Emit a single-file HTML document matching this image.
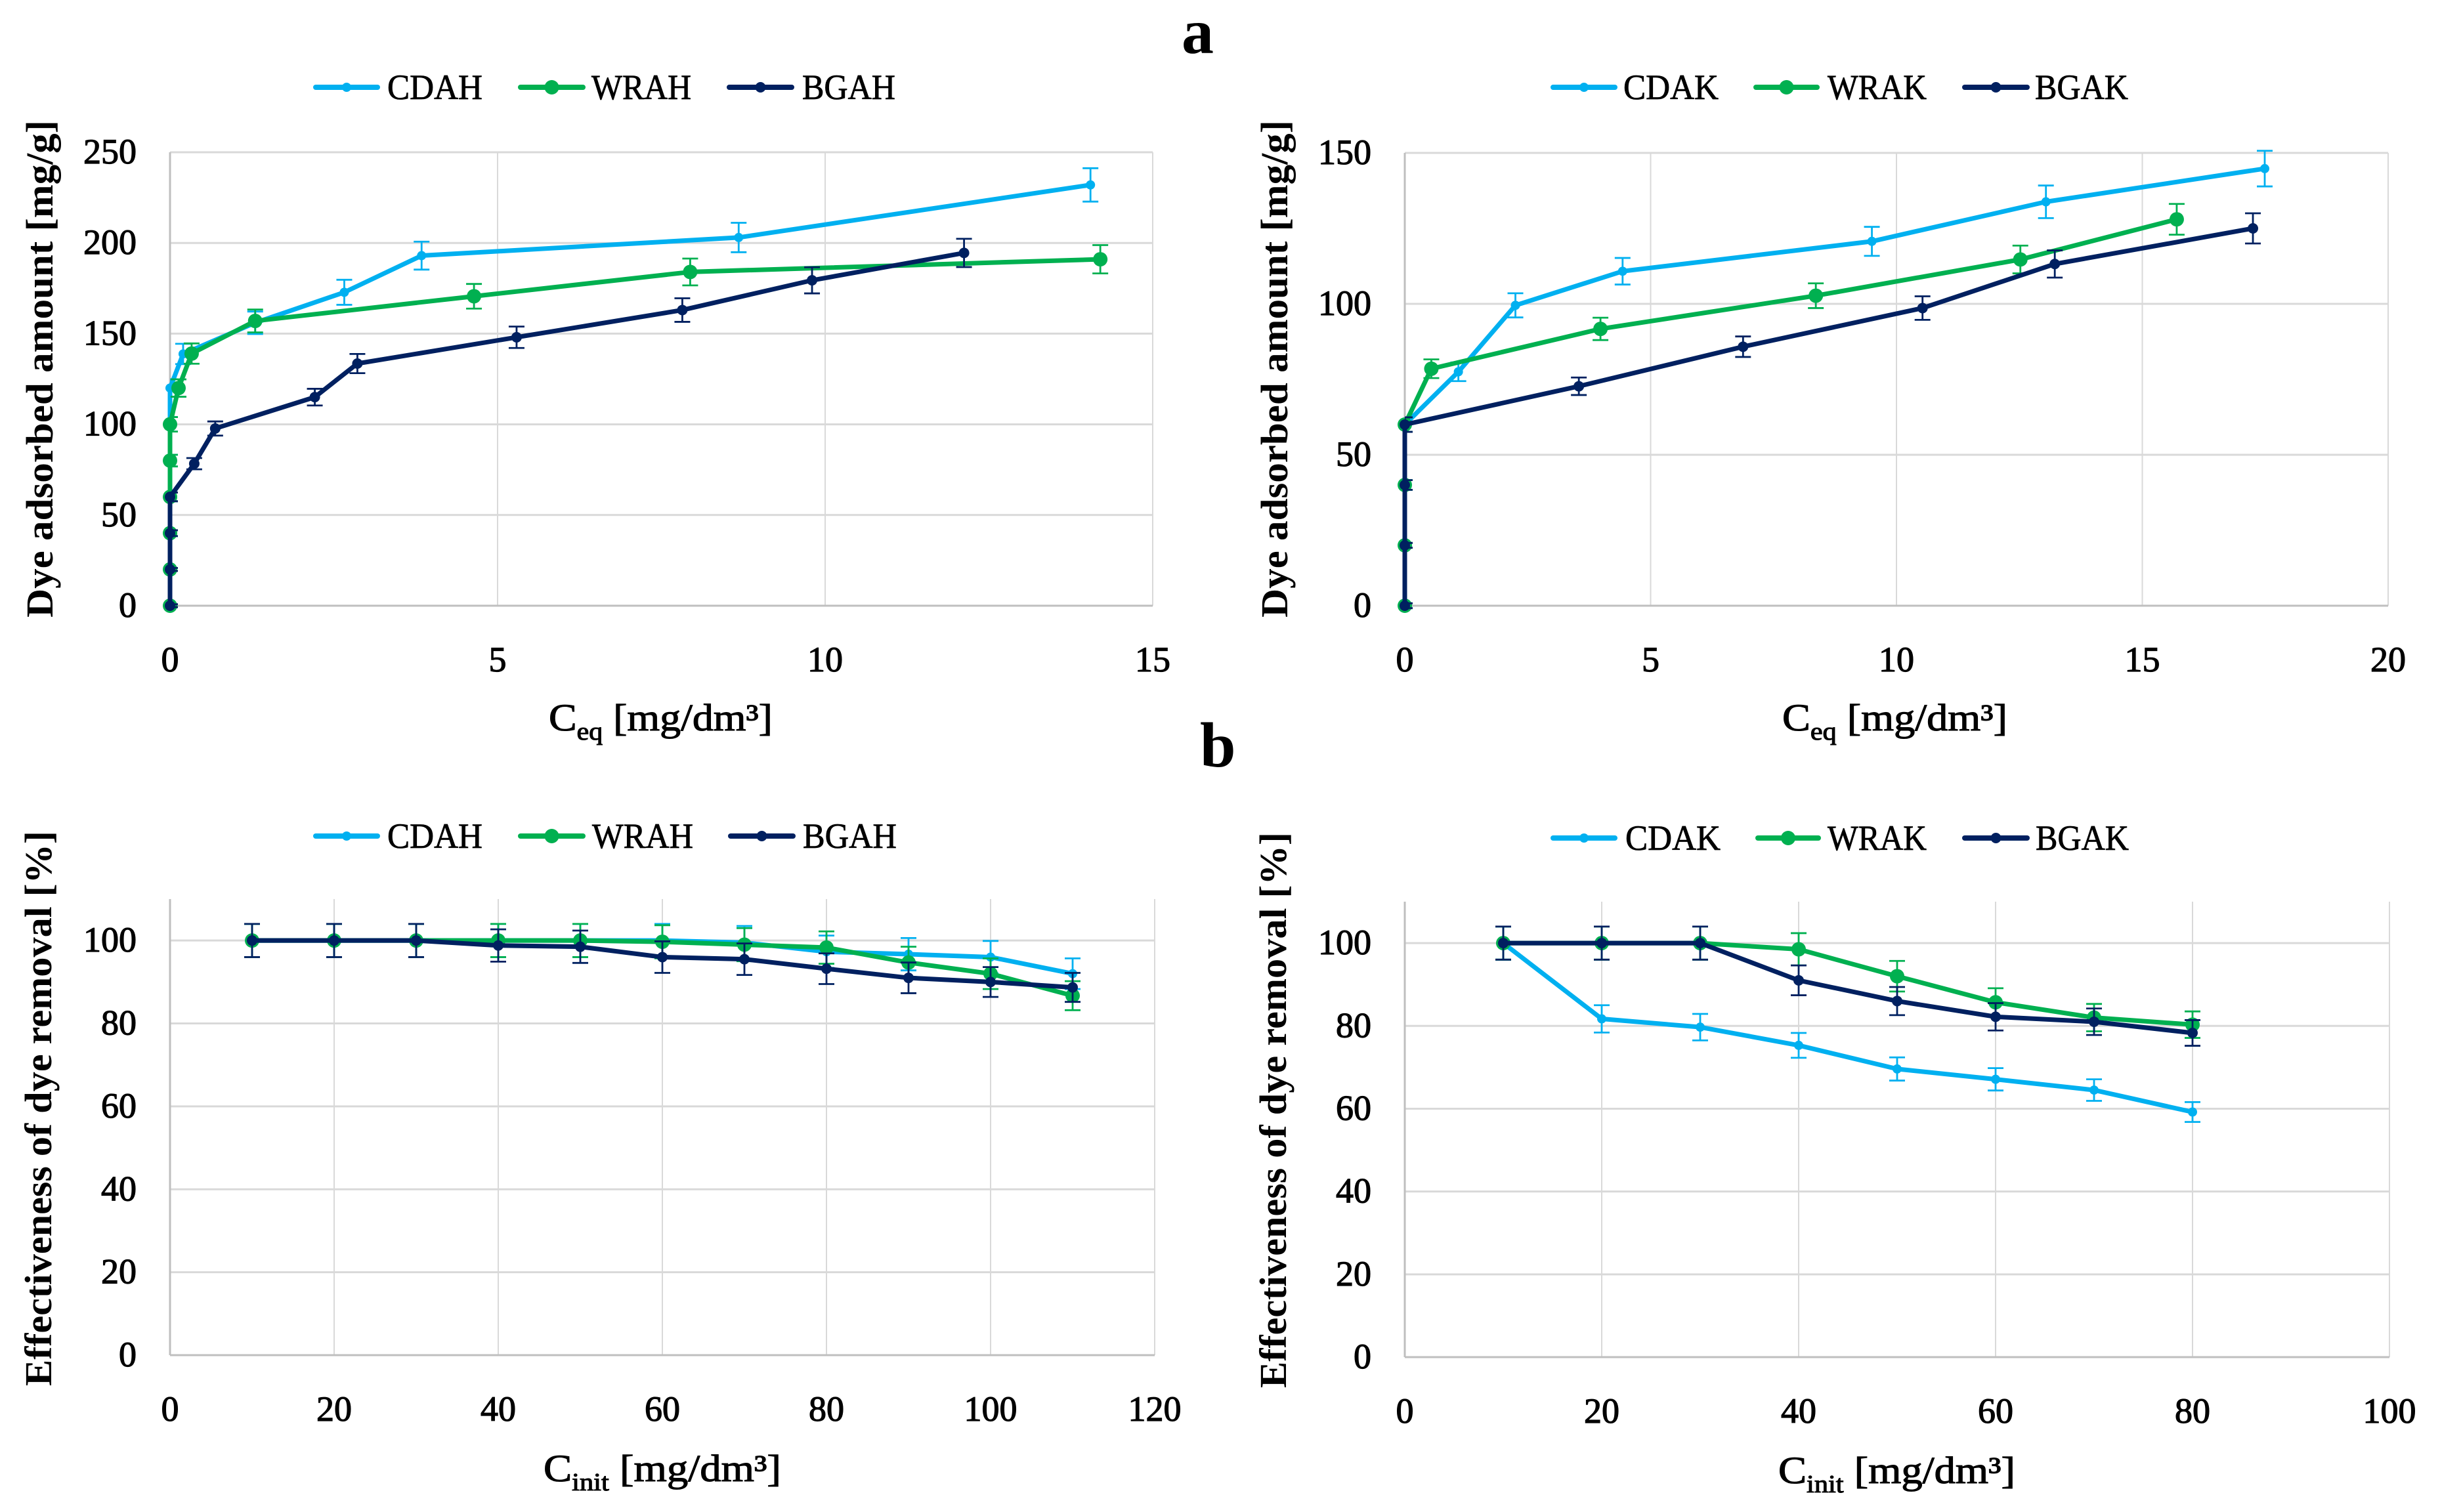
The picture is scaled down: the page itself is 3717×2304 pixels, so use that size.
<!DOCTYPE html>
<html lang="en">
<head>
<meta charset="utf-8">
<title>Dye adsorption charts</title>
<style>
html,body{margin:0;padding:0;background:#fff;width:3717px;height:2304px;overflow:hidden}
svg{display:block;font-family:"Liberation Serif","DejaVu Serif",serif;fill:#000}
.tick{font-size:54px;stroke:#000;stroke-width:1.2px}
.legend{font-size:54px;stroke:#000;stroke-width:.8px}
.xt{font-size:58px;stroke:#000;stroke-width:1.1px}
.yt{font-size:58px;font-weight:bold}
.panel{font-size:98px;font-weight:bold}
</style>
</head>
<body>
<svg id="fig" xmlns="http://www.w3.org/2000/svg" width="3717" height="2304" viewBox="0 0 3717 2304">
<rect width="3717" height="2304" fill="#fff"></rect>
<text class="panel" x="1800" y="81">a</text>
<text class="panel" x="1828" y="1168">b</text>
</svg>
<script>
// Top-left: adsorption isotherm, H series
const a1Xticks = [0, 5, 10, 15];
const a1Yticks = [0, 50, 100, 150, 200, 250];
const cdahX = [0, 0, 0, 0, 0, 0, 0, 0.2, 1.3, 2.66, 3.84, 8.68, 14.05];
const cdahY = [0, 20, 40, 60, 80, 100, 120, 138.8, 156, 172.8, 193, 203, 232];
const cdahE = [0.8, 0.8, 1.6, 2.4, 3.2, 4, 4.8, 5.6, 6.2, 6.9, 7.7, 8.1, 9.2];
const wrahX = [0, 0, 0, 0, 0, 0, 0.13, 0.33, 1.3, 4.64, 7.94, 14.2];
const wrahY = [0, 20, 40, 60, 80, 100, 120, 139, 157, 170.6, 184, 191];
const wrahE = [0.8, 0.8, 1.6, 2.4, 3.2, 4, 4.8, 5.6, 6.3, 6.8, 7.4, 7.8];
const bgahX = [0, 0, 0, 0, 0.37, 0.69, 2.21, 2.86, 5.29, 7.82, 9.8, 12.12];
const bgahY = [0, 20, 40, 60, 78.3, 97.7, 115, 133.5, 148, 163, 179.4, 194.5];
const bgahE = [0.8, 0.8, 1.6, 2.4, 3.1, 3.9, 4.6, 5.3, 5.9, 6.5, 7.2, 7.8];

// Top-right: adsorption isotherm, K series
const a2Xticks = [0, 5, 10, 15, 20];
const a2Yticks = [0, 50, 100, 150];
const cdakX = [0, 0, 0, 0, 1.09, 2.25, 4.43, 9.5, 13.04, 17.49];
const cdakY = [0, 20, 40, 60, 77.5, 99.5, 110.8, 120.7, 133.8, 144.8];
const cdakE = [0.8, 0.8, 1.6, 2.4, 3.1, 4, 4.4, 4.8, 5.4, 5.9];
const wrakX = [0, 0, 0, 0, 0.54, 3.98, 8.36, 12.52, 15.7];
const wrakY = [0, 20, 40, 60, 78.5, 91.7, 102.7, 114.7, 128];
const wrakE = [0.8, 0.8, 1.6, 2.4, 3.1, 3.7, 4.1, 4.6, 5.1];
const bgakX = [0, 0, 0, 0, 3.54, 6.88, 10.53, 13.22, 17.25];
const bgakY = [0, 20, 40, 60, 72.7, 85.8, 98.6, 113.2, 125];
const bgakE = [0.8, 0.8, 1.6, 2.4, 2.9, 3.4, 3.9, 4.5, 5];

// Bottom-left: removal effectiveness, H series
const b1Xticks = [0, 20, 40, 60, 80, 100, 120];
const b1Yticks = [0, 20, 40, 60, 80, 100];
const b1Conc = [10, 20, 30, 40, 50, 60, 70, 80, 90, 100, 110];
const cdahEff = [100, 100, 100, 100, 100, 100, 99.5, 97.3, 96.7, 96, 92];
const cdahEffE = [4, 4, 4, 4, 4, 4, 4, 3.9, 3.9, 3.9, 3.7];
const wrahEff = [100, 100, 100, 100, 100, 99.7, 99, 98.3, 94.7, 92, 86.7];
const wrahEffE = [4, 4, 4, 4, 4, 4, 4, 3.9, 3.8, 3.7, 3.5];
const bgahEff = [100, 100, 100, 98.8, 98.5, 96, 95.5, 93.2, 91, 90, 88.7];
const bgahEffE = [4, 4, 4, 3.9, 3.9, 3.8, 3.8, 3.7, 3.7, 3.6, 3.5];

// Bottom-right: removal effectiveness, K series
const b2Xticks = [0, 20, 40, 60, 80, 100];
const b2Yticks = [0, 20, 40, 60, 80, 100];
const b2Conc = [10, 20, 30, 40, 50, 60, 70, 80];
const cdakEff = [100, 81.7, 79.7, 75.3, 69.6, 67.1, 64.5, 59.2];
const cdakEffE = [4, 3.3, 3.2, 3, 2.8, 2.7, 2.6, 2.4];
const wrakEff = [100, 100, 100, 98.5, 92, 85.7, 82, 80.3];
const wrakEffE = [4, 4, 4, 3.9, 3.7, 3.4, 3.3, 3.2];
const bgakEff = [100, 100, 100, 91, 86, 82.2, 81, 78.3];
const bgakEffE = [4, 4, 4, 3.6, 3.4, 3.3, 3.2, 3.1];

const NS = 'http://www.w3.org/2000/svg';
const fig = document.getElementById('fig');
const BLUE = '#00B0F0', GREEN = '#00B050', NAVY = '#002060';

function mk(tag, attrs, parent) {
  const el = document.createElementNS(NS, tag);
  for (const k in attrs) el.setAttribute(k, attrs[k]);
  (parent || fig).appendChild(el);
  return el;
}

function drawChart(c) {
  const g = mk('g', {});
  
  
  const xMin = c.xTicks[0], xMax = c.xTicks[c.xTicks.length - 1];
  const x = v => c.left + (v - xMin) / (xMax - xMin) * (c.right - c.left);
  const y = v => c.bottom - v / c.yMax * (c.bottom - c.top);

  const clip = mk('clipPath', {id: c.id + '-clip'}, g);
  mk('rect', {x: c.left, y: c.top - 40, width: c.right - c.left + 20, height: c.bottom - c.top + 80}, clip);

  c.yTicks.forEach(t => {
    if (t === 0) return;
    const l = mk('line', {x1: c.left, x2: c.right, y1: y(t), y2: y(t), stroke: '#D9D9D9', 'stroke-width': 3}, g);
    
    
  });
  c.xTicks.forEach(t => {
    if (t === xMin) return;
    const l = mk('line', {x1: x(t), x2: x(t), y1: c.top, y2: c.bottom, stroke: '#D9D9D9', 'stroke-width': 2}, g);
    
    
  });
  const ax = mk('line', {x1: c.left, x2: c.right, y1: c.bottom, y2: c.bottom, stroke: '#BFBFBF', 'stroke-width': 3}, g);
  
  
  const ay = mk('line', {x1: c.left, x2: c.left, y1: c.top, y2: c.bottom, stroke: '#BFBFBF', 'stroke-width': 3}, g);
  
  

  c.yTicks.forEach(t => {
    const e = mk('text', {x: c.left - 51, y: y(t) + 17, 'text-anchor': 'end', class: 'tick'}, g);
    
    
    e.textContent = t;
  });
  c.xTicks.forEach(t => {
    const e = mk('text', {x: x(t), y: c.bottom + c.xTickDy, 'text-anchor': 'middle', class: 'tick'}, g);
    
    
    e.textContent = t;
  });

  const xt = mk('text', {x: c.xtX, y: c.xtY, class: 'xt', textLength: c.xtW, lengthAdjust: 'spacingAndGlyphs'}, g);
  
  
  const t1 = mk('tspan', {}, xt); t1.textContent = 'C';
  const t2 = mk('tspan', {dy: 14, 'font-size': 38}, xt); t2.textContent = c.sub;
  const t3 = mk('tspan', {dy: -14}, xt); t3.textContent = ' [mg/dm³]';

  const yt = mk('text', {transform: 'translate(' + c.ytX + ' ' + c.ytBottom + ') rotate(-90)', class: 'yt', textLength: c.ytLen, lengthAdjust: 'spacingAndGlyphs'}, g);
  
  
  yt.textContent = c.yTitle;

  c.series.forEach(s => {
    const sg = mk('g', {}, g);
    
    
    s.xs.forEach((vx, i) => {
      const px = x(vx), hi = y(s.ys[i] + s.es[i]), lo = y(s.ys[i] - s.es[i]);
      const eb = mk('path', {d: 'M' + (px - 12) + ' ' + hi + 'H' + (px + 12) + 'M' + px + ' ' + hi + 'V' + lo + 'M' + (px - 12) + ' ' + lo + 'H' + (px + 12), stroke: s.color, 'stroke-width': 2.8, fill: 'none', 'clip-path': 'url(#' + c.id + '-clip)'}, sg);
      
      
    });
    const d = s.xs.map((vx, i) => x(vx) + ',' + y(s.ys[i])).join(' ');
    const line = mk('polyline', {points: d, fill: 'none', stroke: s.color, 'stroke-width': 7, 'stroke-linejoin': 'round', 'stroke-linecap': 'round'}, sg);
    
    
    s.xs.forEach((vx, i) => {
      const m = mk('circle', {cx: x(vx), cy: y(s.ys[i]), r: s.r, fill: s.color}, sg);
      
      
    });
  });

  c.series.forEach((s, i) => {
    const lg = mk('g', {}, g);
    
    
    const [x1, x2, tx, tw] = c.legendX[i];
    mk('line', {x1: x1, x2: x2, y1: c.legendY, y2: c.legendY, stroke: s.color, 'stroke-width': 8, 'stroke-linecap': 'round'}, lg);
    mk('circle', {cx: (x1 + x2) / 2, cy: c.legendY, r: s.r, fill: s.color}, lg);
    const e = mk('text', {x: tx, y: c.legendY + 18, class: 'legend', textLength: tw, lengthAdjust: 'spacingAndGlyphs'}, lg);
    e.textContent = s.name;
  });
}

drawChart({
  id: 'adsorption-h', left: 259, right: 1756, top: 232, bottom: 923, yMax: 250,
  xTicks: a1Xticks, yTicks: a1Yticks, xTickDy: 100,
  sub: 'eq', xtX: 836, xtY: 1113, xtW: 341,
  yTitle: 'Dye adsorbed amount [mg/g]', ytX: 80, ytBottom: 941, ytLen: 758,
  legendY: 133,
  legendX: [[481, 575, 590, 145], [793, 888, 901, 152], [1111, 1206, 1222, 142]],
  series: [
    {name: 'CDAH', color: BLUE, r: 7, xs: cdahX, ys: cdahY, es: cdahE},
    {name: 'WRAH', color: GREEN, r: 11, xs: wrahX, ys: wrahY, es: wrahE},
    {name: 'BGAH', color: NAVY, r: 8, xs: bgahX, ys: bgahY, es: bgahE}
  ]
});
drawChart({
  id: 'adsorption-k', left: 2140, right: 3638, top: 233, bottom: 923, yMax: 150,
  xTicks: a2Xticks, yTicks: a2Yticks, xTickDy: 100,
  sub: 'eq', xtX: 2715, xtY: 1113, xtW: 343,
  yTitle: 'Dye adsorbed amount [mg/g]', ytX: 1961, ytBottom: 941, ytLen: 758,
  legendY: 133,
  legendX: [[2366, 2460, 2473, 145], [2675, 2768, 2784, 151], [2993, 3088, 3100, 142]],
  series: [
    {name: 'CDAK', color: BLUE, r: 7, xs: cdakX, ys: cdakY, es: cdakE},
    {name: 'WRAK', color: GREEN, r: 11, xs: wrakX, ys: wrakY, es: wrakE},
    {name: 'BGAK', color: NAVY, r: 8, xs: bgakX, ys: bgakY, es: bgakE}
  ]
});
drawChart({
  id: 'removal-h', left: 259, right: 1759, top: 1370, bottom: 2065, yMax: 110,
  xTicks: b1Xticks, yTicks: b1Yticks, xTickDy: 100,
  sub: 'init', xtX: 828, xtY: 2257, xtW: 362,
  yTitle: 'Effectiveness of dye removal [%]', ytX: 78, ytBottom: 2112, ytLen: 846,
  legendY: 1274,
  legendX: [[481, 575, 590, 145], [793, 888, 902, 154], [1113, 1208, 1223, 143]],
  series: [
    {name: 'CDAH', color: BLUE, r: 7, xs: b1Conc, ys: cdahEff, es: cdahEffE},
    {name: 'WRAH', color: GREEN, r: 11, xs: b1Conc, ys: wrahEff, es: wrahEffE},
    {name: 'BGAH', color: NAVY, r: 8, xs: b1Conc, ys: bgahEff, es: bgahEffE}
  ]
});
drawChart({
  id: 'removal-k', left: 2140, right: 3640, top: 1374, bottom: 2068, yMax: 110,
  xTicks: b2Xticks, yTicks: b2Yticks, xTickDy: 100,
  sub: 'init', xtX: 2709, xtY: 2260, xtW: 361,
  yTitle: 'Effectiveness of dye removal [%]', ytX: 1959, ytBottom: 2115, ytLen: 847,
  legendY: 1277,
  legendX: [[2366, 2460, 2476, 145], [2678, 2770, 2784, 151], [2993, 3088, 3101, 142]],
  series: [
    {name: 'CDAK', color: BLUE, r: 7, xs: b2Conc, ys: cdakEff, es: cdakEffE},
    {name: 'WRAK', color: GREEN, r: 11, xs: b2Conc, ys: wrakEff, es: wrakEffE},
    {name: 'BGAK', color: NAVY, r: 8, xs: b2Conc, ys: bgakEff, es: bgakEffE}
  ]
});
</script>
</body>
</html>
